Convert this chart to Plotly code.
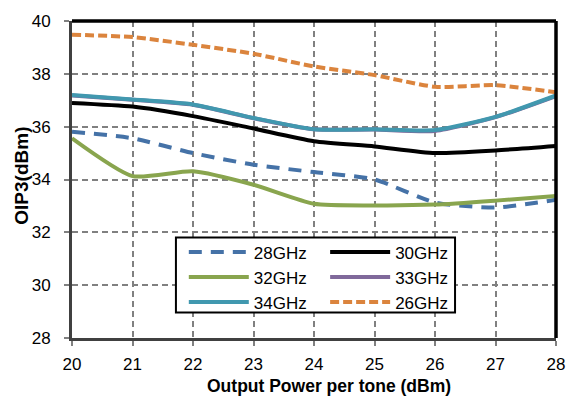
import plotly.graph_objects as go

x_power = [20, 21, 22, 23, 24, 25, 26, 27, 28]

oip3_28ghz = [35.81, 35.56, 35.0, 34.56, 34.28, 34.0, 33.13, 32.94, 33.23]
oip3_30ghz = [36.9, 36.76, 36.4, 35.93, 35.45, 35.25, 35.0, 35.1, 35.27]
oip3_32ghz = [35.56, 34.13, 34.31, 33.8, 33.08, 33.02, 33.05, 33.2, 33.38]
oip3_33ghz = [37.18, 37.02, 36.83, 36.32, 35.9, 35.89, 35.84, 36.36, 37.16]
oip3_34ghz = [37.2, 37.03, 36.84, 36.33, 35.9, 35.9, 35.87, 36.37, 37.18]
oip3_26ghz = [39.48, 39.39, 39.1, 38.76, 38.28, 37.95, 37.51, 37.57, 37.3]

series = [
    ("28GHz", oip3_28ghz, "#4572A7", "13px,9px", "legend"),
    ("30GHz", oip3_30ghz, "#000000", "solid", "legend2"),
    ("32GHz", oip3_32ghz, "#89A54E", "solid", "legend"),
    ("33GHz", oip3_33ghz, "#80699B", "solid", "legend2"),
    ("34GHz", oip3_34ghz, "#4198AF", "solid", "legend"),
    ("26GHz", oip3_26ghz, "#DB843D", "9px,4px", "legend2"),
]

fig = go.Figure()
for name, vals, color, dash, lg in series:
    fig.add_trace(go.Scatter(
        x=x_power, y=vals, name=name, mode="lines",
        line=dict(color=color, width=4, dash=dash, shape="spline", smoothing=0.6),
        legend=lg,
    ))

font_family = "Liberation Sans, Arial, sans-serif"

fig.update_layout(
    width=577, height=398,
    margin=dict(l=72, r=16, t=16, b=60),
    paper_bgcolor="white", plot_bgcolor="white",
    font=dict(family=font_family, size=17, color="#000000"),
    showlegend=True,
    legend=dict(x=0.231, y=0.327, xanchor="left", yanchor="top",
                bgcolor="rgba(0,0,0,0)", borderwidth=0, itemwidth=60,
                font=dict(size=17, color="#000000"), tracegroupgap=0),
    legend2=dict(x=0.523, y=0.327, xanchor="left", yanchor="top",
                 bgcolor="rgba(0,0,0,0)", borderwidth=0, itemwidth=60,
                 font=dict(size=17, color="#000000"), tracegroupgap=0),
    xaxis=dict(
        range=[20, 28], dtick=1, tick0=20,
        showgrid=True, gridcolor="#808080", gridwidth=1.5, griddash="6px,4px",
        showline=True, linecolor="#404040", linewidth=3,
        ticks="outside", ticklen=5, tickcolor="#808080", tickwidth=1.5,
        tickfont=dict(size=17), zeroline=False, ticklabelstandoff=4,
    ),
    yaxis=dict(
        range=[28, 40], dtick=2, tick0=28,
        showgrid=True, gridcolor="#808080", gridwidth=1.5, griddash="6px,4px",
        showline=True, linecolor="#404040", linewidth=3,
        ticks="outside", ticklen=5, tickcolor="#808080", tickwidth=1.5,
        tickfont=dict(size=17), zeroline=False, ticklabelstandoff=10,
    ),
    annotations=[
        dict(text="<b>Output Power per tone (dBm)</b>", xref="paper", yref="paper",
             x=0.531, y=(338 - 398) / 322, xanchor="center", yanchor="bottom",
             showarrow=False, font=dict(size=17.5, color="#000000"), borderpad=0),
        dict(text="<b>OIP3(dBm)</b>", xref="paper", yref="paper",
             x=-0.106, y=0.511, xanchor="center", yanchor="middle", showarrow=False,
             textangle=-90, font=dict(size=19, color="#000000")),
    ],
    shapes=[
        dict(type="line", xref="x domain", yref="y domain", x0=0, x1=1, y0=1, y1=1,
             line=dict(color="black", width=3.5)),
        dict(type="line", xref="x domain", yref="y domain", x0=1, x1=1, y0=0, y1=1,
             line=dict(color="black", width=3.5)),
        dict(type="rect", xref="x domain", yref="y domain",
             x0=(177 - 72) / 489, x1=(459 - 72) / 489,
             y0=(338 - 312) / 322, y1=(338 - 236) / 322,
             line=dict(color="black", width=2), fillcolor="white", layer="above"),
    ],
)

fig.write_html("out.html")
